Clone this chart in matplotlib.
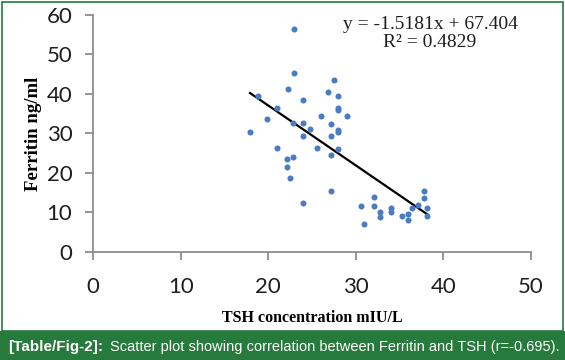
import matplotlib
matplotlib.use("Agg")
import matplotlib.pyplot as plt
from matplotlib.patches import Rectangle

# TSH (x) vs Ferritin (y)
tsh = [17.9, 18.8, 19.9, 21.0, 21.0, 22.1, 22.1, 22.3, 22.5, 22.8,
       22.8, 22.9, 22.9, 24.0, 24.0, 24.0, 24.0, 24.7, 25.6, 26.0,
       26.8, 27.1, 27.1, 27.1, 27.1, 27.5, 27.9, 27.9, 27.9, 27.9,
       27.9, 27.9, 29.0, 30.6, 30.9, 32.1, 32.1, 32.8, 32.7, 34.0,
       34.0, 35.3, 35.9, 35.9, 36.4, 37.1, 37.8, 37.8, 38.1, 38.1]
ferritin = [30.3, 39.4, 33.6, 36.5, 26.3, 23.5, 21.6, 41.3, 18.7, 24.1,
            32.5, 45.3, 56.4, 38.5, 32.6, 29.4, 12.4, 31.2, 26.3, 34.5,
            40.5, 32.3, 29.4, 24.6, 15.3, 43.6, 39.4, 36.5, 36.0, 30.9,
            30.3, 26.0, 34.3, 11.6, 7.1, 13.9, 11.6, 10.1, 8.7, 11.0,
            10.1, 9.1, 9.6, 8.1, 11.0, 11.9, 15.3, 13.5, 11.0, 9.0]

slope, intercept = -1.5181, 67.404
x_ticks = [0, 10, 20, 30, 40, 50]
y_ticks = [0, 10, 20, 30, 40, 50, 60]

green = "#267a3c"
gray = "#8c8c8c"

fig = plt.figure(figsize=(5.65, 3.6), dpi=100)
ax = fig.add_axes([0.1651, 0.3008, 0.7747, 0.6575])

ax.scatter(tsh, ferritin, s=19, color="#4a7cc4", zorder=3, linewidths=0)
x0, x1 = min(tsh), max(tsh)
ax.plot([x0, x1], [slope * x0 + intercept, slope * x1 + intercept],
        color="black", lw=1.6, zorder=2)

ax.set_xlim(0, 50)
ax.set_ylim(0, 60)
ax.set_xticks(x_ticks)
ax.set_yticks(y_ticks)
for s in ["top", "right"]:
    ax.spines[s].set_visible(False)
for s in ["left", "bottom"]:
    ax.spines[s].set_color(gray)
    ax.spines[s].set_linewidth(1.3)
ax.tick_params(colors=gray, width=1.3, length=5.5, direction="out",
               labelcolor="#1e1e1e", labelsize=16)
ax.tick_params(axis="x", pad=13)
ax.tick_params(axis="y", pad=9.5)
for lab in ax.get_xticklabels() + ax.get_yticklabels():
    lab.set_family("Lato")

ax.set_xlabel("TSH concentration mIU/L", family="Liberation Serif",
              fontweight="bold", fontsize=11.5, labelpad=9)
fig.text(34 / 565, 1 - 133.5 / 360, "Ferritin ng/ml", family="Liberation Serif",
         fontweight="bold", fontsize=13.5, rotation=90,
         ha="center", va="center")

fig.text(0.761, 0.933, "y = -1.5181x + 67.404", family="Liberation Serif",
         fontsize=14, ha="center", va="center", color="#1e1e1e")
fig.text(0.761, 0.881, "R² = 0.4829", family="Liberation Serif",
         fontsize=14, ha="center", va="center", color="#1e1e1e")

# green frame and caption band
fig.patches.append(Rectangle((1.5 / 565, 29 / 360), 561 / 565, 329 / 360,
                             transform=fig.transFigure, fill=False,
                             edgecolor=green, lw=1.2))
fig.patches.append(Rectangle((0, 0), 1, 29.5 / 360, transform=fig.transFigure,
                             facecolor=green, edgecolor="none"))
fig.text(8 / 565, 13.5 / 360, "[Table/Fig-2]:", family="Liberation Sans",
         fontweight="bold", fontsize=11, color="white", va="center")
fig.text(110 / 565, 13.5 / 360,
         "Scatter plot showing correlation between Ferritin and TSH (r=-0.695).",
         family="Liberation Sans", fontsize=10.5, color="white", va="center")

fig.savefig("out.png", dpi=100)
